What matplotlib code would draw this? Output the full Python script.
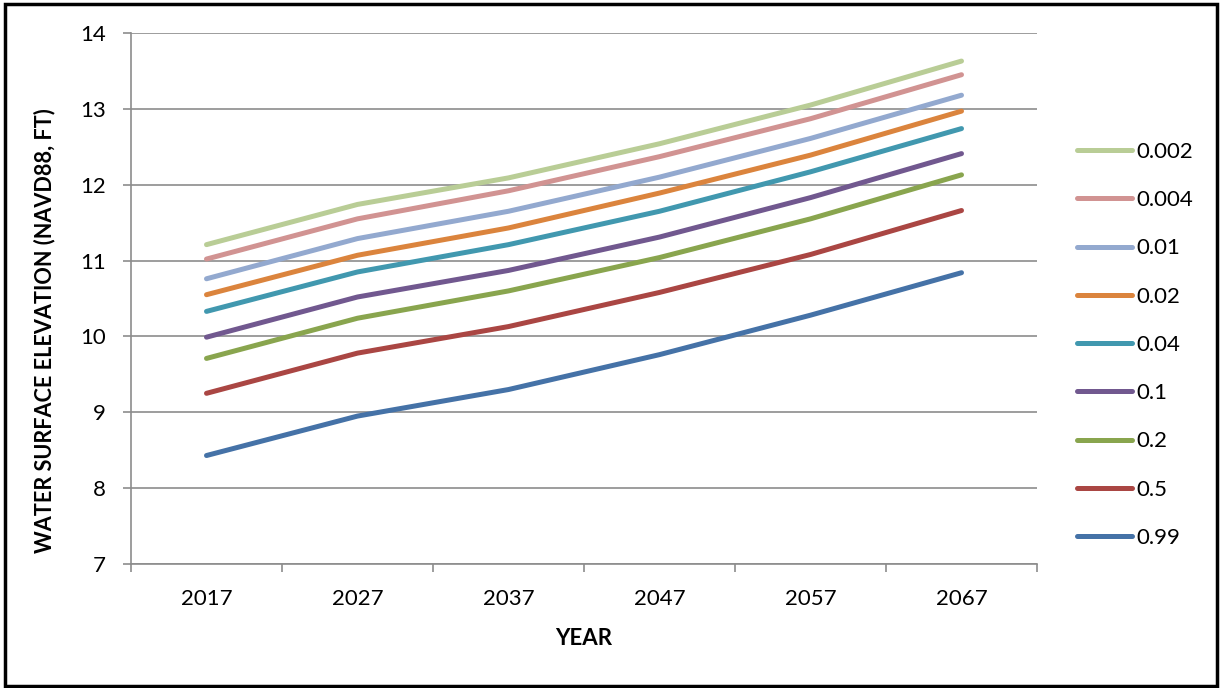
import matplotlib
matplotlib.use("Agg")
import matplotlib.pyplot as plt
from matplotlib.patches import Rectangle

years = ["2017", "2027", "2037", "2047", "2057", "2067"]
labels = ["0.002", "0.004", "0.01", "0.02", "0.04", "0.1", "0.2", "0.5", "0.99"]
s_0002 = [11.21, 11.74, 12.09, 12.54, 13.05, 13.63]
s_0004 = [11.02, 11.55, 11.92, 12.37, 12.87, 13.45]
s_001 = [10.76, 11.29, 11.65, 12.10, 12.61, 13.18]
s_002 = [10.55, 11.07, 11.43, 11.89, 12.39, 12.97]
s_004 = [10.33, 10.85, 11.21, 11.65, 12.17, 12.74]
s_01 = [9.99, 10.52, 10.87, 11.31, 11.83, 12.41]
s_02 = [9.71, 10.24, 10.60, 11.04, 11.55, 12.13]
s_05 = [9.25, 9.78, 10.13, 10.58, 11.08, 11.66]
s_099 = [8.43, 8.95, 9.30, 9.76, 10.28, 10.84]
series = [s_0002, s_0004, s_001, s_002, s_004, s_01, s_02, s_05, s_099]
colors = ["#B9CD96", "#D19392", "#93A9CF", "#DB843D", "#4198AF",
          "#71588F", "#89A54E", "#AA4643", "#4572A7"]

plt.rcParams['font.family'] = ['Lato', 'DejaVu Sans']
FS = 16

fig = plt.figure(figsize=(12.23, 6.88), dpi=100)
ax = fig.add_axes([131/1223, 1 - 564/688, (1037-131)/1223, (564-33)/688])

x = list(range(len(years)))
for lab, ys, c in zip(labels, series, colors):
    ax.plot(x, ys, color=c, lw=3.6, label=lab, solid_capstyle='round', zorder=3)

ax.set_xlim(-0.5, len(years) - 0.5)
ax.set_ylim(7, 14)
ax.set_yticks(range(7, 15))
ax.yaxis.grid(True, color='#8c8c8c', lw=1.2)
ax.set_axisbelow(True)

ax.set_xticks([i - 0.5 for i in range(len(years) + 1)])
ax.set_xticklabels([])
ax.set_xticks(x, minor=True)
ax.set_xticklabels(years, minor=True, fontsize=FS)
ax.tick_params(axis='x', which='major', length=6, color='#8c8c8c', width=1.2)
ax.tick_params(axis='x', which='minor', length=0, pad=18)
ax.tick_params(axis='y', length=6, color='#8c8c8c', width=1.2, labelsize=FS, pad=12)

for s in ['top', 'right']:
    ax.spines[s].set_visible(False)
for s in ['left', 'bottom']:
    ax.spines[s].set_color('#8c8c8c')
    ax.spines[s].set_linewidth(1.2)

ax.set_xlabel("YEAR", fontsize=FS, fontweight='bold', labelpad=14)
fig.text(45/1223, 1 - 331/688, "WATER SURFACE ELEVATION (NAVD88, FT)",
         fontsize=15.6, fontweight='bold', rotation=90, ha='center', va='center')

leg = ax.legend(loc='upper left', bbox_to_anchor=(1077/1223, 1 - 142/688),
                bbox_transform=fig.transFigure, frameon=False, fontsize=FS,
                handlelength=2.48, handletextpad=0.2, labelspacing=1.27,
                borderaxespad=0, borderpad=0)

fig.add_artist(Rectangle((5/1223, 2/688), (1217-5)/1223, (684-2)/688,
                         transform=fig.transFigure, fill=False,
                         edgecolor='black', lw=2.5))

fig.savefig("out.png", dpi=100)
